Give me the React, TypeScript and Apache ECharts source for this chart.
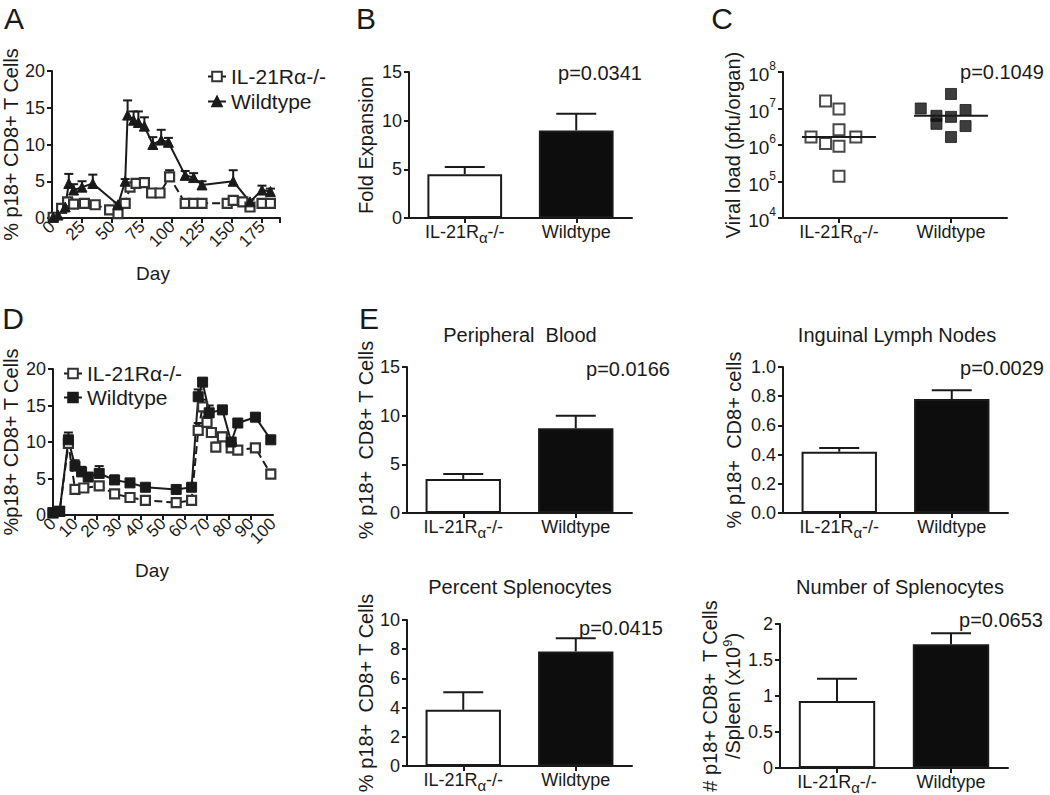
import React, { useEffect, useRef } from 'react';
import * as echarts from 'echarts';

const FONT = '"Liberation Sans", Arial, Helvetica, sans-serif';
const INK = '#1a1a1a';

// ---------- Panel A (time course, first infection + rechallenge) ----------
const aKODays = [1, 8, 13, 18, 27, 36, 48, 55, 61, 65, 70, 77, 83, 90, 98, 111, 118, 125, 146, 151, 159, 165, 175, 182];
const aKOVal = [0.1, 1.3, 2.2, 1.9, 2.0, 1.8, 1.1, 0.6, 2.0, 4.2, 4.7, 4.8, 3.4, 3.4, 5.6, 2.0, 2.0, 2.0, 2.0, 2.4, 2.2, 1.5, 2.0, 2.0];
const aKOErr = [0, 0.3, 0.5, 0.3, 0.3, 0.3, 0.3, 0.3, 0.5, 0.6, 0.4, 0.4, 0.3, 0.3, 0.9, 0.2, 0.2, 0.2, 0.3, 0.3, 0.3, 0.3, 0.3, 0.3];
const aWTDays = [1, 5, 11, 14, 18, 25, 34, 55, 61, 63, 68, 72, 77, 84, 91, 97, 111, 118, 125, 151, 165, 175, 182];
const aWTVal = [0.1, 0.4, 1.5, 4.7, 3.8, 4.2, 4.7, 1.8, 5.0, 14.0, 13.3, 13.0, 12.5, 10.0, 10.6, 10.3, 5.8, 5.5, 4.5, 5.0, 2.2, 3.8, 3.6];
const aWTErr = [0, 0, 0.3, 1.3, 0.8, 0.8, 1.2, 0.3, 0.3, 2.0, 1.2, 1.5, 1.2, 1.0, 1.4, 0.6, 0.6, 0.6, 0.5, 1.5, 0.3, 0.6, 0.4];

// ---------- Panel B ----------
const groups = ['IL-21Rα-/-', 'Wildtype'];
const bMean = [4.5, 9.0];
const bErr = [0.75, 1.7];

// ---------- Panel C (viral load, log scale) ----------
const cKOJitter = [-0.25, -0.12, -0.12, 0, 0, 0, 0, 0.15];
const cKOLoad = [1.65e6, 1.6e7, 1.1e6, 9.7e6, 2.6e6, 9.3e5, 1.4e5, 1.65e6];
const cWTJitter = [-0.27, -0.13, -0.13, 0, 0, 0, 0.13, 0.13];
const cWTLoad = [1.0e7, 6.3e6, 3.8e6, 2.5e7, 5.9e6, 1.65e6, 9.1e6, 3.3e6];
const cMedian = [1.65e6, 6.3e6];

// ---------- Panel D ----------
const dKODays = [0, 3, 7, 10, 14, 21, 28, 35, 42, 56, 63, 66, 68, 70, 72, 74, 77, 81, 84, 92, 99];
const dKOVal = [0.3, 0.5, 9.8, 3.5, 3.7, 4.0, 2.9, 2.4, 2.0, 1.7, 2.0, 11.6, 14.8, 12.7, 11.3, 9.3, 10.7, 9.2, 8.9, 9.2, 5.6];
const dKOErr = [0, 0, 0.8, 0.4, 0.4, 0.5, 0.4, 0.3, 0.3, 0.3, 0.4, 1.0, 1.0, 0.8, 0.6, 0.5, 0.6, 0.4, 0.4, 0.4, 0.6];
const dWTDays = [0, 3, 7, 10, 13, 16, 21, 28, 35, 42, 56, 63, 66, 68, 71, 77, 81, 84, 92, 99];
const dWTVal = [0.3, 0.5, 10.3, 6.7, 5.9, 5.2, 5.7, 4.8, 4.4, 3.8, 3.5, 3.8, 16.2, 18.2, 14.0, 14.4, 10.0, 12.6, 13.4, 10.3];
const dWTErr = [0, 0, 1.0, 0.8, 0.7, 0.5, 1.0, 0.6, 0.5, 0.3, 0.3, 0.5, 1.0, 0.5, 1.0, 0.5, 0.5, 0.4, 0.5, 0.3];

// ---------- Panel E ----------
const e1Mean = [3.5, 8.7];
const e1Err = [0.5, 1.3];
const e2Mean = [0.42, 0.78];
const e2Err = [0.025, 0.06];
const e3Mean = [3.85, 7.85];
const e3Err = [1.2, 0.9];
const e4Mean = [0.93, 1.72];
const e4Err = [0.31, 0.15];

const legendNames: Record<string, string> = {
  A_KO: 'IL-21Rα-/-',
  A_WT: 'Wildtype',
  D_KO: 'IL-21Rα-/-',
  D_WT: 'Wildtype',
};

const axisLine = { show: true, onZero: false, lineStyle: { color: INK, width: 2 } };
const axisTick = { show: true, length: 5, lineStyle: { color: INK, width: 2 } };
const lbl = (size: number) => ({ color: INK, fontSize: size, fontFamily: FONT });

function makeErr(capPx: number) {
  return (params: any, api: any) => {
    const x = api.value(0);
    const v = api.value(1);
    const e = api.value(2);
    if (!e) return null;
    const p0 = api.coord([x, v]);
    const p1 = api.coord([x, v + e]);
    const st = { stroke: INK, lineWidth: 2 };
    return {
      type: 'group',
      children: [
        { type: 'line', shape: { x1: p0[0], y1: p0[1], x2: p1[0], y2: p1[1] }, style: st },
        { type: 'line', shape: { x1: p1[0] - capPx / 2, y1: p1[1], x2: p1[0] + capPx / 2, y2: p1[1] }, style: st },
      ],
    };
  };
}

function valueY(gi: number, min: number, max: number, interval: number, name: string, gap: number, fmt?: any, extra: any = {}) {
  return {
    type: 'value', gridIndex: gi, min, max, interval,
    axisLine, axisTick, splitLine: { show: false },
    axisLabel: { ...lbl(18), margin: 7, formatter: fmt },
    name, nameLocation: 'middle', nameGap: gap,
    nameTextStyle: { ...lbl(20), ...extra },
  };
}

const catRich = {
  n: { ...lbl(18), lineHeight: 22, verticalAlign: 'top' },
  a: { ...lbl(15), lineHeight: 15, verticalAlign: 'bottom' },
};

function catX(gi: number) {
  return {
    type: 'category', gridIndex: gi, data: groups,
    axisLine, axisTick: { ...axisTick, alignWithLabel: true, interval: 0 },
    axisLabel: {
      ...lbl(18), margin: 5, interval: 0, hideOverlap: false,
      formatter: (v: string) => v.split('α').map((s) => (s ? `{n|${s}}` : '')).join('{a|α}'),
      rich: catRich,
    },
  };
}

function bars(xi: number, means: number[], errs: number[]) {
  return [
    {
      type: 'bar', xAxisIndex: xi, yAxisIndex: xi, barWidth: '67%', silent: true,
      data: means.map((m, i) => ({
        value: m,
        itemStyle: i === 0
          ? { color: '#ffffff', borderColor: INK, borderWidth: 2 }
          : { color: '#0d0d0d', borderColor: INK, borderWidth: 2 },
      })),
    },
    {
      type: 'custom', xAxisIndex: xi, yAxisIndex: xi, z: 5, silent: true,
      renderItem: makeErr(40),
      encode: { x: 0, y: 1 },
      data: means.map((m, i) => [i, m, errs[i]]),
    },
  ];
}

function lineSeries(name: string, xi: number, days: number[], vals: number[], dashed: boolean, symbol: string, filled: boolean, size: number) {
  return {
    type: 'line', name, xAxisIndex: xi, yAxisIndex: xi, z: 4,
    data: days.map((d, i) => [d, vals[i]]),
    symbol, symbolSize: size, showAllSymbol: true,
    lineStyle: { color: INK, width: 2, type: dashed ? 'dashed' : 'solid' },
    itemStyle: filled
      ? { color: INK, borderColor: INK, borderWidth: 1 }
      : { color: '#ffffff', borderColor: '#333', borderWidth: 2.2 },
    emphasis: { disabled: true },
  };
}

function errSeries(xi: number, days: number[], vals: number[], errs: number[]) {
  return {
    type: 'custom', xAxisIndex: xi, yAxisIndex: xi, z: 3, silent: true,
    renderItem: makeErr(9),
    encode: { x: 0, y: 1 },
    data: days.map((d, i) => [d, vals[i], errs[i]]),
  };
}

function medianRender(params: any, api: any) {
  const x = api.value(0);
  const m = api.value(1);
  const a = api.coord([x - 0.33, m]);
  const b = api.coord([x + 0.33, m]);
  return { type: 'line', shape: { x1: a[0], y1: a[1], x2: b[0], y2: b[1] }, style: { stroke: INK, lineWidth: 2 } };
}

const txt = (text: string, x: number, y: number, size: number, align = 'center') => ({
  type: 'text', x, y, silent: true,
  style: { text, fontSize: size, fontFamily: FONT, fill: INK, align, verticalAlign: 'middle' },
});

const timeAxisLabel = {
  ...lbl(17), rotate: 45, margin: 6, interval: 0, hideOverlap: false,
};

const option: any = {
  animation: false,
  backgroundColor: '#ffffff',
  grid: [
    { left: 52, top: 71, width: 228, height: 147 },   // A
    { left: 409, top: 72, width: 223, height: 146 },  // B
    { left: 783, top: 72, width: 224, height: 146 },  // C
    { left: 53, top: 369, width: 220, height: 146 },  // D
    { left: 407, top: 367, width: 225, height: 146 }, // E1
    { left: 783, top: 367, width: 225, height: 146 }, // E2
    { left: 407, top: 620, width: 225, height: 146 }, // E3
    { left: 780, top: 624, width: 228, height: 146 }, // E4
  ],
  xAxis: [
    {
      type: 'value', gridIndex: 0, min: 0, max: 190, interval: 25,
      axisLine, axisTick, splitLine: { show: false },
      axisLabel: { ...timeAxisLabel, showMinLabel: true, formatter: (v: number) => (v % 25 === 0 ? String(v) : '') },
    },
    catX(1),
    catX(2),
    {
      type: 'value', gridIndex: 3, position: 'bottom', min: 0, max: 100, interval: 10,
      axisLine, axisTick, splitLine: { show: false },
      axisLabel: { ...timeAxisLabel, showMinLabel: false, showMaxLabel: false },
    },
    catX(4),
    catX(5),
    catX(6),
    catX(7),
    { type: 'value', gridIndex: 2, min: -0.5, max: 1.5, show: false },
    // companion axis of D that carries the day-0 and day-100 end labels
    {
      type: 'value', gridIndex: 3, position: 'bottom', offset: 0, min: 0, max: 100, interval: 100,
      axisLine: { show: false }, axisTick: { show: false }, splitLine: { show: false },
      axisLabel: { ...timeAxisLabel, showMinLabel: true, showMaxLabel: true },
    },
  ],
  yAxis: [
    valueY(0, 0, 20, 5, '% p18+ CD8+ T Cells', 31),
    valueY(1, 0, 15, 5, 'Fold Expansion', 33),
    {
      type: 'log', gridIndex: 2, logBase: 10, min: 1e4, max: 1e8,
      axisLine, axisTick, splitLine: { show: false },
      axisLabel: {
        ...lbl(18), margin: 7,
        formatter: (v: number) => `{b|10}{s|${Math.round(Math.log10(v))}}`,
        rich: {
          b: { ...lbl(19), lineHeight: 24, verticalAlign: 'bottom' },
          s: { ...lbl(12), lineHeight: 12, verticalAlign: 'top' },
        },
      },
      name: 'Viral load (pfu/organ)', nameLocation: 'middle', nameGap: 40,
      nameTextStyle: lbl(20),
    },
    valueY(3, 0, 20, 5, '%p18+ CD8+ T Cells', 32),
    valueY(4, 0, 15, 5, '% p18+  CD8+ T Cells', 26),
    valueY(5, 0, 1, 0.2, '% p18+  CD8+ cells', 39, (v: number) => v.toFixed(1)),
    valueY(6, 0, 10, 2, '% p18+  CD8+ T Cells', 26),
    valueY(7, 0, 2, 0.5, '# p18+ CD8+  T Cells\n/Spleen (x10{s|9})', 28, undefined, {
      lineHeight: 23,
      rich: { s: { ...lbl(13), lineHeight: 13, verticalAlign: 'top' } },
    }),
  ],
  legend: [
    {
      data: ['A_KO', 'A_WT'], orient: 'vertical', left: 202, top: 61, itemGap: 4,
      itemWidth: 18, itemHeight: 12, selectedMode: false,
      formatter: (n: string) => legendNames[n],
      textStyle: { ...lbl(21) },
    },
    {
      data: ['D_KO', 'D_WT'], orient: 'vertical', left: 58, top: 358, itemGap: 3,
      itemWidth: 18, itemHeight: 12, selectedMode: false,
      formatter: (n: string) => legendNames[n],
      textStyle: { ...lbl(21) },
    },
  ],
  series: [
    // A
    errSeries(0, aKODays, aKOVal, aKOErr),
    errSeries(0, aWTDays, aWTVal, aWTErr),
    lineSeries('A_KO', 0, aKODays, aKOVal, true, 'rect', false, 9),
    lineSeries('A_WT', 0, aWTDays, aWTVal, false, 'triangle', true, 10),
    // B
    ...bars(1, bMean, bErr),
    // C
    {
      type: 'scatter', xAxisIndex: 8, yAxisIndex: 2, symbol: 'rect', symbolSize: 11, silent: true,
      itemStyle: { color: '#ffffff', borderColor: INK, borderWidth: 2 },
      data: cKOLoad.map((v, i) => [0 + cKOJitter[i], v]),
    },
    {
      type: 'scatter', xAxisIndex: 8, yAxisIndex: 2, symbol: 'rect', symbolSize: 11, silent: true,
      itemStyle: { color: '#0d0d0d', borderColor: INK, borderWidth: 1 },
      data: cWTLoad.map((v, i) => [1 + cWTJitter[i], v]),
    },
    {
      type: 'custom', xAxisIndex: 8, yAxisIndex: 2, z: 5, silent: true,
      renderItem: medianRender, encode: { x: 0, y: 1 },
      data: cMedian.map((m, i) => [i, m]),
    },
    // D
    errSeries(3, dKODays, dKOVal, dKOErr),
    errSeries(3, dWTDays, dWTVal, dWTErr),
    lineSeries('D_KO', 3, dKODays, dKOVal, true, 'rect', false, 9),
    lineSeries('D_WT', 3, dWTDays, dWTVal, false, 'rect', true, 10),
    // E
    ...bars(4, e1Mean, e1Err),
    ...bars(5, e2Mean, e2Err),
    ...bars(6, e3Mean, e3Err),
    ...bars(7, e4Mean, e4Err),
  ],
  graphic: [
    txt('A', 14, 18, 30),
    txt('B', 366, 18, 30),
    txt('C', 722, 18, 30),
    txt('D', 13, 318, 30),
    txt('E', 369, 318, 30),
    txt('Day', 153, 273, 19),
    txt('Day', 152, 570, 19),
    txt('p=0.0341', 600, 73, 20),
    txt('p=0.1049', 1002, 72, 20),
    txt('Peripheral  Blood', 520, 335, 20),
    txt('Inguinal Lymph Nodes', 897, 335, 20),
    txt('Percent Splenocytes', 520, 587, 20),
    txt('Number of Splenocytes', 900, 587, 20),
    txt('p=0.0166', 628, 369, 20),
    txt('p=0.0029', 1002, 368, 20),
    txt('p=0.0415', 621, 628, 20),
    txt('p=0.0653', 1001, 620, 20),
  ],
};

export default function App() {
  const ref = useRef<HTMLDivElement>(null);
  useEffect(() => {
    if (!ref.current) return;
    const chart = echarts.init(ref.current, null, { renderer: 'svg' });
    chart.setOption(option);
    return () => chart.dispose();
  }, []);
  return (
    <div
      ref={ref}
      style={{ position: 'absolute', left: 0, top: 0, width: 1050, height: 795, background: '#fff' }}
    />
  );
}
